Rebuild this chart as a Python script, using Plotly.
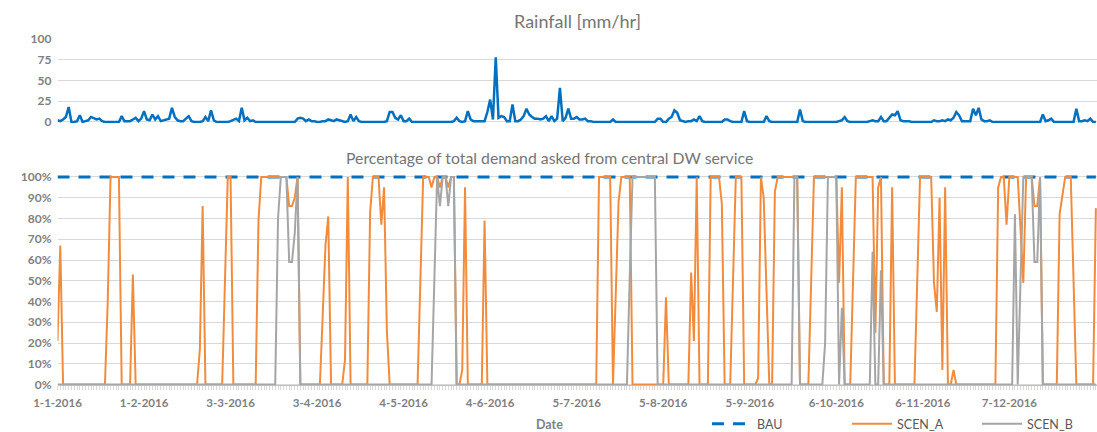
import plotly.graph_objects as go
import pandas as pd

# ---------------- data (daily, starting 1-1-2016) ----------------
rain = [
    2, 1, 3, 6, 18, 0, 0, 1, 8, 0,          # 0
    1, 2, 6, 4, 3, 4, 1, 0, 0, 0,           # 10
    0, 0, 0, 7, 1, 1, 1, 3, 5, 1,           # 20
    4, 13, 3, 2, 9, 3, 7, 1, 2, 3,          # 30
    4, 17, 6, 2, 1, 1, 4, 7, 1, 0,          # 40
    0, 0, 1, 6, 1, 14, 2, 0, 0, 0,          # 50
    0, 0, 1, 3, 4, 1, 17, 2, 5, 1,          # 60
    2, 0, 0, 0, 0, 0, 0, 0, 0, 0,           # 70
    0, 0, 0, 0, 0, 0, 4, 5, 4, 1,           # 80
    3, 1, 1, 0, 0, 1, 1, 3, 2, 1,           # 90
    3, 2, 1, 0, 1, 9, 1, 6, 1, 0,           # 100
    0, 0, 0, 0, 0, 0, 0, 0, 1, 12,          # 110
    12, 5, 3, 8, 1, 1, 4, 0, 0, 0,          # 120
    0, 0, 0, 0, 0, 0, 0, 0, 0, 0,           # 130
    0, 0, 1, 5, 1, 0, 1, 13, 3, 1,          # 140
    1, 1, 1, 1, 12, 27, 3, 78, 5, 7,        # 150
    6, 1, 1, 21, 1, 1, 3, 7, 16, 9,         # 160
    6, 4, 4, 3, 4, 7, 1, 7, 1, 4,           # 170
    41, 1, 5, 16, 4, 4, 6, 3, 3, 4,         # 180
    1, 1, 0, 0, 0, 0, 0, 0, 0, 3,           # 190
    0, 0, 0, 0, 0, 0, 0, 0, 0, 0,           # 200
    0, 0, 0, 0, 0, 4, 4, 0, 0, 4,           # 210
    6, 14, 11, 2, 1, 0, 1, 1, 3, 1,         # 220
    7, 1, 0, 0, 0, 0, 0, 0, 0, 3,           # 230
    3, 1, 0, 0, 0, 0, 13, 1, 0, 0,          # 240
    0, 0, 0, 0, 7, 1, 0, 0, 0, 0,           # 250
    0, 0, 0, 0, 0, 0, 15, 1, 0, 0,          # 260
    0, 0, 0, 0, 0, 0, 0, 0, 0, 0,           # 270
    1, 2, 6, 1, 0, 0, 0, 0, 0, 0,           # 280
    0, 1, 2, 1, 1, 6, 1, 1, 5, 9,           # 290
    8, 13, 2, 1, 1, 1, 0, 0, 0, 0,          # 300
    0, 0, 0, 0, 2, 1, 1, 2, 1, 3,           # 310
    2, 5, 12, 8, 1, 1, 1, 1, 16, 8,         # 320
    17, 3, 1, 1, 2, 0, 0, 0, 0, 0,          # 330
    0, 0, 0, 0, 0, 0, 0, 0, 0, 0,           # 340
    0, 0, 0, 9, 1, 2, 4, 0, 0, 0,           # 350
    0, 0, 0, 0, 0, 16, 1, 1, 2, 1,          # 360
    4, 0, 0,                                # 370
]

scen_a = [
    21, 67, 0, 0, 0, 0, 0, 0, 0, 0,                 # 0
    0, 0, 0, 0, 0, 0, 0, 0, 40, 100,                # 10
    100, 100, 100, 0, 0, 0, 0, 53, 0, 0,            # 20
    0, 0, 0, 0, 0, 0, 0, 0, 0, 0,                   # 30
    0, 0, 0, 0, 0, 0, 0, 0, 0, 0,                   # 40
    0, 17, 86, 0, 0, 0, 0, 0, 0, 0,                 # 50
    50, 100, 100, 0, 0, 0, 0, 0, 0, 0,              # 60
    0, 0, 79, 100, 100, 100, 100, 100, 100, 100,    # 70
    100, 100, 100, 86, 86, 90, 100, 0, 0, 0,        # 80
    0, 0, 0, 0, 0, 33, 67, 81, 0, 0,                # 90
    0, 0, 0, 12, 100, 0, 0, 0, 0, 0,                # 100
    0, 0, 83, 100, 100, 100, 77, 95, 26, 0,         # 110
    0, 0, 0, 0, 0, 0, 0, 0, 0, 0,                   # 120
    50, 100, 100, 100, 95, 100, 100, 95, 100, 100,  # 130
    95, 100, 100, 0, 0, 7, 95, 0, 0, 0,             # 140
    0, 0, 0, 79, 0, 0, 0, 0, 0, 0,                  # 150
    0, 0, 0, 0, 0, 0, 0, 0, 0, 0,                   # 160
    0, 0, 0, 0, 0, 0, 0, 0, 0, 0,                   # 170
    0, 0, 0, 0, 0, 0, 0, 0, 0, 0,                   # 180
    0, 0, 0, 0, 100, 100, 100, 100, 100, 0,         # 190
    45, 88, 100, 100, 100, 100, 0, 0, 0, 0,         # 200
    0, 0, 0, 0, 0, 0, 0, 0, 42, 0,                  # 210
    0, 0, 0, 0, 0, 0, 0, 54, 21, 100,               # 220
    0, 0, 0, 0, 100, 100, 100, 100, 87, 0,          # 230
    0, 0, 50, 100, 100, 100, 0, 0, 0, 0,            # 240
    0, 3, 100, 90, 45, 0, 0, 93, 100, 100,          # 250
    100, 100, 100, 100, 100, 100, 0, 0, 0, 0,       # 260
    50, 100, 100, 100, 100, 100, 100, 100, 100, 100,  # 270
    49, 95, 0, 0, 0, 50, 100, 100, 100, 100,        # 280
    100, 100, 100, 25, 95, 100, 0, 0, 0, 95,        # 290
    0, 0, 0, 0, 0, 0, 0, 0, 50, 100,                # 300
    100, 100, 100, 100, 49, 35, 90, 7, 95, 0,       # 310
    0, 7, 0, 0, 0, 0, 0, 0, 0, 0,                   # 320
    0, 0, 0, 0, 0, 0, 0, 95, 100, 100,              # 330
    77, 100, 100, 100, 100, 75, 49, 100, 100, 100,  # 340
    86, 86, 100, 0, 0, 0, 0, 0, 0, 82,              # 350
    90, 100, 100, 100, 50, 0, 0, 0, 0, 0,           # 360
    0, 0, 85,                                       # 370
]

scen_b = [
    0, 0, 0, 0, 0, 0, 0, 0, 0, 0,                   # 0
    0, 0, 0, 0, 0, 0, 0, 0, 0, 0,                   # 10
    0, 0, 0, 0, 0, 0, 0, 0, 0, 0,                   # 20
    0, 0, 0, 0, 0, 0, 0, 0, 0, 0,                   # 30
    0, 0, 0, 0, 0, 0, 0, 0, 0, 0,                   # 40
    0, 0, 0, 0, 0, 0, 0, 0, 0, 0,                   # 50
    0, 0, 0, 0, 0, 0, 0, 0, 0, 0,                   # 60
    0, 0, 0, 0, 0, 0, 0, 0, 0, 80,                  # 70
    100, 100, 100, 59, 59, 73, 100, 0, 0, 0,        # 80
    0, 0, 0, 0, 0, 0, 0, 0, 0, 0,                   # 90
    0, 0, 0, 0, 0, 0, 0, 0, 0, 0,                   # 100
    0, 0, 0, 0, 0, 0, 0, 0, 0, 0,                   # 110
    0, 0, 0, 0, 0, 0, 0, 0, 0, 0,                   # 120
    0, 0, 0, 0, 0, 50, 100, 86, 100, 100,           # 130
    86, 100, 100, 0, 0, 0, 0, 0, 0, 0,              # 140
    0, 0, 0, 0, 0, 0, 0, 0, 0, 0,                   # 150
    0, 0, 0, 0, 0, 0, 0, 0, 0, 0,                   # 160
    0, 0, 0, 0, 0, 0, 0, 0, 0, 0,                   # 170
    0, 0, 0, 0, 0, 0, 0, 0, 0, 0,                   # 180
    0, 0, 0, 0, 0, 0, 0, 0, 0, 0,                   # 190
    0, 0, 0, 0, 0, 52, 100, 100, 100, 100,          # 200
    100, 100, 100, 100, 100, 0, 0, 0, 0, 0,         # 210
    0, 0, 0, 0, 0, 0, 0, 0, 0, 0,                   # 220
    0, 0, 0, 0, 0, 0, 0, 0, 0, 0,                   # 230
    0, 0, 0, 0, 0, 0, 0, 0, 0, 0,                   # 240
    0, 0, 0, 0, 0, 0, 0, 0, 0, 0,                   # 250
    0, 0, 0, 0, 100, 100, 0, 0, 0, 0,               # 260
    0, 0, 0, 0, 0, 20, 100, 100, 100, 100,          # 270
    0, 37, 0, 0, 0, 0, 0, 0, 0, 0,                  # 280
    0, 0, 64, 0, 0, 55, 0, 0, 0, 0,                 # 290
    0, 0, 0, 0, 0, 0, 0, 0, 0, 0,                   # 300
    0, 0, 0, 0, 0, 0, 0, 0, 0, 0,                   # 310
    0, 0, 0, 0, 0, 0, 0, 0, 0, 0,                   # 320
    0, 0, 0, 0, 0, 0, 0, 0, 0, 0,                   # 330
    0, 0, 0, 82, 0, 50, 100, 100, 100, 100,         # 340
    59, 59, 100, 0, 0, 0, 0, 0, 0, 0,               # 350
    0, 0, 0, 0, 0, 0, 0, 0, 0, 0,                   # 360
    0, 0, 0,                                        # 370
]

bau_level = 100  # BAU asks 100 % every day

tick_dates = ["2016-01-01", "2016-02-01", "2016-03-03", "2016-04-03", "2016-05-04", "2016-06-04",
              "2016-07-05", "2016-08-05", "2016-09-05", "2016-10-06", "2016-11-06", "2016-12-07"]
tick_labels = ["1-1-2016", "1-2-2016", "3-3-2016", "3-4-2016", "4-5-2016", "4-6-2016",
               "5-7-2016", "5-8-2016", "5-9-2016", "6-10-2016", "6-11-2016", "7-12-2016"]
pct_ticks = [0, 10, 20, 30, 40, 50, 60, 70, 80, 90, 100]
pct_labels = ["0%", "10%", "20%", "30%", "40%", "50%", "60%", "70%", "80%", "90%", "100%"]
rain_ticks = [0, 25, 50, 75, 100]

assert len(rain) == len(scen_a) == len(scen_b), (len(rain), len(scen_a), len(scen_b))

dates = pd.date_range("2016-01-01", periods=len(rain), freq="D")
bau = [bau_level] * len(dates)

# ---------------- layout helpers ----------------
W, H = 1097, 432
def py(p):
    return 1 - p / H
def px(p):
    return p / W

FONT = "Lato"
GRID = "#D9D9D9"
TXT = "#7F7F7F"

fig = go.Figure()
fig.add_trace(go.Scatter(x=dates, y=rain, xaxis="x2", yaxis="y2", mode="lines",
                         line=dict(color="#0070C0", width=2.5), showlegend=False, name="Rainfall"))
fig.add_trace(go.Scatter(x=dates, y=bau, mode="lines", name="BAU", legend="legend",
                         line=dict(color="#0070C0", width=3, dash="12px,9px")))
fig.add_trace(go.Scatter(x=dates, y=scen_a, mode="lines", name="SCEN_A", legend="legend2",
                         line=dict(color="#F28C3C", width=2)))
fig.add_trace(go.Scatter(x=dates, y=scen_b, mode="lines", name="SCEN_B", legend="legend3",
                         line=dict(color="#A5A5A5", width=2)))

x_end = pd.Timestamp("2016-01-01") + pd.Timedelta(days=372.4)
xdom = [px(57.5), 1]
tickfont = dict(family=FONT, size=11.5, color=TXT, weight="bold")
ytickfont = dict(family=FONT, size=12, color=TXT, weight="bold")

legend_common = dict(orientation="h", xanchor="left", yanchor="middle",
                     font=dict(family=FONT, size=12.5, color="#595959"),
                     bgcolor="rgba(0,0,0,0)", itemwidth=40)

fig.update_layout(
    width=W, height=H,
    margin=dict(l=0, r=0, t=0, b=0, autoexpand=False),
    paper_bgcolor="white", plot_bgcolor="white",
    xaxis=dict(domain=xdom, range=[dates[0], x_end], anchor="free", position=py(384.5),
               showline=True, linecolor="#BFBFBF", linewidth=1, automargin=False,
               tickvals=tick_dates, ticktext=tick_labels, ticks="", showgrid=False,
               tickfont=tickfont, ticklabelstandoff=8, zeroline=False,
               minor=dict(ticks="outside", ticklen=4, tickcolor=GRID, dtick=86400000,
                          tick0="2016-01-01", showgrid=False)),
    xaxis2=dict(domain=xdom, anchor="y2", matches="x", showticklabels=False, automargin=False,
                showgrid=False, showline=False, ticks="", zeroline=False),
    yaxis=dict(domain=[py(387), py(174.5)], range=[-1.2, 101.2], anchor="x", automargin=False,
               tickvals=pct_ticks, ticktext=pct_labels, ticks="",
               showgrid=True, gridcolor=GRID, gridwidth=1, zeroline=False,
               tickfont=ytickfont, ticklabelstandoff=5),
    yaxis2=dict(domain=[py(123.2), py(38.2)], range=[-1.5, 101], anchor="x2", automargin=False,
                tickvals=rain_ticks, ticks="",
                showgrid=True, gridcolor=GRID, gridwidth=1, zeroline=False,
                tickfont=ytickfont, ticklabelstandoff=5),
    legend=dict(x=px(707), y=py(424), **legend_common),
    legend2=dict(x=px(847), y=py(424), **legend_common),
    legend3=dict(x=px(977), y=py(424), **legend_common),
    annotations=[
        dict(text="Rainfall [mm/hr]", x=px(577), y=py(21), xref="paper", yref="paper",
             showarrow=False, xanchor="center", yanchor="middle",
             font=dict(family=FONT, size=18, color="#757575")),
        dict(text="Percentage of total demand asked from central DW service", x=px(549), y=py(157),
             xref="paper", yref="paper", showarrow=False, xanchor="center", yanchor="middle",
             font=dict(family=FONT, size=15.8, color="#757575")),
        dict(text="Date", x=px(549), y=py(424), xref="paper", yref="paper", showarrow=False,
             xanchor="center", yanchor="middle",
             font=dict(family=FONT, size=12.5, color=TXT, weight="bold")),
    ],
)

fig.write_html("out.html", config={"displayModeBar": False, "staticPlot": True},
               post_script="document.body.style.margin='0';document.body.style.padding='0';"
                           "document.body.style.overflow='hidden';")
